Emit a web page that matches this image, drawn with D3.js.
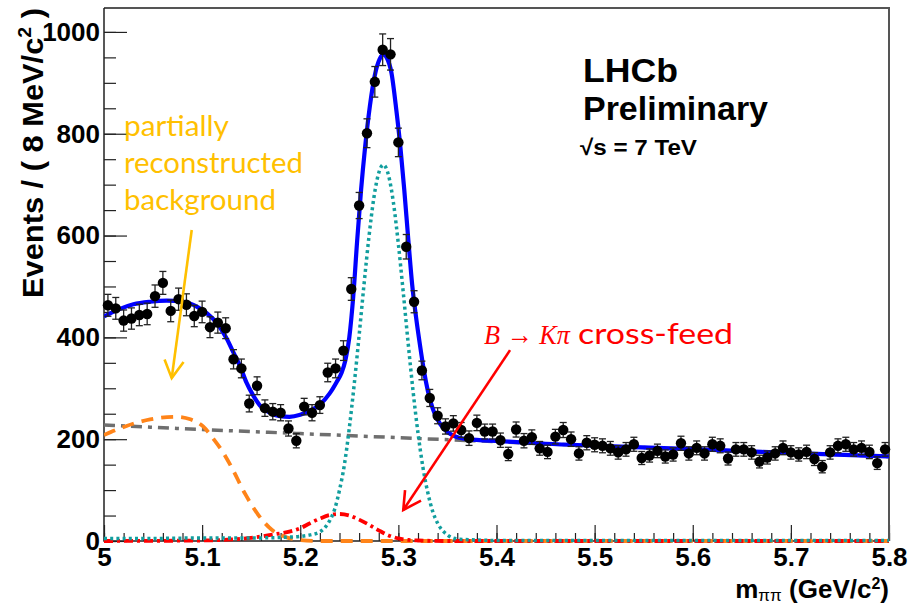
<!DOCTYPE html>
<html><head><meta charset="utf-8">
<script src="https://cdn.jsdelivr.net/npm/d3@7"></script>
<style>body{margin:0;background:#fff}svg{display:block}</style>
</head><body><svg id="c" width="912" height="606"></svg>
<script>
// ---------- data ----------
const binCenters = [5.004,5.012,5.020,5.028,5.036,5.044,5.052,5.060,5.068,5.076,
5.084,5.092,5.100,5.108,5.116,5.124,5.132,5.140,5.148,5.156,
5.164,5.172,5.180,5.188,5.196,5.204,5.212,5.220,5.228,5.236,
5.244,5.252,5.260,5.268,5.276,5.284,5.292,5.300,5.308,5.316,
5.324,5.332,5.340,5.348,5.356,5.364,5.372,5.380,5.388,5.396,
5.404,5.412,5.420,5.428,5.436,5.444,5.452,5.460,5.468,5.476,
5.484,5.492,5.500,5.508,5.516,5.524,5.532,5.540,5.548,5.556,
5.564,5.572,5.580,5.588,5.596,5.604,5.612,5.620,5.628,5.636,
5.644,5.652,5.660,5.668,5.676,5.684,5.692,5.700,5.708,5.716,
5.724,5.732,5.740,5.748,5.756,5.764,5.772,5.780,5.788,5.796];
const counts = [463,457,433,437,444,446,481,507,452,475,
464,442,450,420,429,418,357,339,270,305,
261,254,252,221,197,264,252,267,331,339,
374,495,659,801,902,965,956,783,578,470,
335,281,246,225,231,218,202,232,215,215,
198,171,219,197,204,182,175,205,218,200,
172,193,189,187,182,174,180,190,163,168,
177,166,170,192,172,183,172,190,187,162,
180,180,174,156,164,172,183,174,170,175,
161,146,174,187,190,180,183,175,153,180];

const totalX = [5.000,5.015,5.030,5.047,5.064,5.081,5.095,5.105,5.115,5.125,5.132,5.139,5.145,5.152,5.159,5.169,5.179,5.189,5.200,5.210,5.220,5.230,5.237,5.242,5.246,5.250,5.254,5.258,5.262,5.266,5.271,5.276,5.281,5.2846,5.288,5.293,5.298,5.302,5.306,5.310,5.314,5.318,5.322,5.326,5.330,5.335,5.340,5.346,5.356,5.370,5.404,5.450,5.505,5.593,5.670,5.740,5.800];
const totalY = [441,455,465,470,472,470,460,447,428,398,370,342,312,286,266,252,245,244,248,256,268,290,312,330,355,400,480,590,690,772,855,915,947,956,950,919,845,775,690,595,505,440,385,335,295,260,238,221,207,200,196,191,187,181,175,170,166];

const signalX = [5.00,5.05,5.10,5.15,5.18,5.20,5.21,5.22,5.225,5.23,5.235,5.24,5.245,5.25,5.255,5.26,5.265,5.27,5.275,5.28,5.2846,5.29,5.295,5.30,5.305,5.31,5.315,5.32,5.325,5.33,5.335,5.34,5.35,5.36,5.38,5.40,5.50,5.60,5.70,5.80];
const signalY = [5,5,6,6,7,9,12,18,26,40,62,100,150,222,308,404,504,597,674,723,739,718,664,583,488,388,294,212,145,95,58,35,12,4,2,1,1,1,1,1];

const crossX = [5.00,5.10,5.13,5.15,5.17,5.19,5.20,5.21,5.22,5.23,5.24,5.25,5.26,5.27,5.28,5.29,5.30,5.31,5.32,5.35,5.40,5.50,5.60,5.70,5.80];
const crossY = [0,1,3,6,12,19,25,35,44,51,53,50,42,32,21,11,5,2,1,0,0,0,0,0,0];

const partRecoX = [5.000,5.023,5.047,5.074,5.088,5.101,5.111,5.122,5.130,5.144,5.157,5.171,5.185,5.200,5.220,5.300,5.400,5.500,5.600,5.700,5.800];
const partRecoY = [208,226,239,244,239,225,202,172,145,92,52,22,8,2,0,0,0,0,0,0,0];

const combX = [5.0,5.1,5.2,5.3,5.4,5.5,5.6,5.7,5.8];
const combY = [228,219,211,203,195,187,180,173,166];

const xTickValues = [5.0,5.1,5.2,5.3,5.4,5.5,5.6,5.7,5.8];
const xTickLabels = ["5","5.1","5.2","5.3","5.4","5.5","5.6","5.7","5.8"];
const yTickValues = [0,200,400,600,800,1000];
const yTickLabels = ["0","200","400","600","800","1000"];

// ---------- layout ----------
const svg = d3.select("#c");
const L = 104, R = 889, T = 8, B = 541;
const x = d3.scaleLinear().domain([5, 5.8]).range([L, R]);
const y = d3.scaleLinear().domain([0, 1047]).range([B, T]);
const rootFont = "'Liberation Sans', Arial, Helvetica, sans-serif";

svg.append("rect").attr("width",912).attr("height",606).attr("fill","#fff");

// minor ticks
svg.append("g").attr("transform",`translate(0,${B})`)
  .call(d3.axisBottom(x).tickValues(x.ticks(40)).tickSize(-8).tickFormat("").tickSizeOuter(0))
  .call(g=>g.select(".domain").remove())
  .call(g=>g.selectAll("line").attr("stroke","#222").attr("stroke-width",1.2));
svg.append("g").attr("transform",`translate(${L},0)`)
  .call(d3.axisLeft(y).tickValues(y.ticks(20)).tickSize(-12).tickFormat("").tickSizeOuter(0))
  .call(g=>g.select(".domain").remove())
  .call(g=>g.selectAll("line").attr("stroke","#222").attr("stroke-width",1.2));

// major ticks + labels
svg.append("g").attr("transform",`translate(0,${B})`)
  .call(d3.axisBottom(x).tickValues(xTickValues).tickSize(-16).tickPadding(7).tickSizeOuter(0)
        .tickFormat((d,i)=>xTickLabels[i]))
  .call(g=>g.select(".domain").remove())
  .call(g=>g.selectAll("line").attr("stroke","#222").attr("stroke-width",1.2))
  .call(g=>g.selectAll("text").attr("fill","#000").style("font-family",rootFont)
        .style("font-weight","bold").style("font-size","26px"));
svg.append("g").attr("transform",`translate(${L},0)`)
  .call(d3.axisLeft(y).tickValues(yTickValues).tickSize(-23).tickPadding(4).tickSizeOuter(0)
        .tickFormat((d,i)=>yTickLabels[i]))
  .call(g=>g.select(".domain").remove())
  .call(g=>g.selectAll("line").attr("stroke","#222").attr("stroke-width",1.2))
  .call(g=>g.selectAll("text").attr("fill","#000").style("font-family",rootFont)
        .style("font-weight","bold").style("font-size","26px"));

// frame
svg.append("path").attr("d",`M${R},${B}V${T}H${L}`).attr("fill","none").attr("stroke","#555").attr("stroke-width",2);
svg.append("path").attr("d",`M${L},${T}V${B}H${R}`).attr("fill","none").attr("stroke","#222").attr("stroke-width",1.5);

// curves
const lineOf = (xs, ys) => d3.line().x((d,i)=>x(xs[i])).y(d=>y(d)).curve(d3.curveMonotoneX)(ys);
svg.append("clipPath").attr("id","clip").append("rect").attr("x",L).attr("y",T).attr("width",R-L).attr("height",B-T+3);
const g = svg.append("g").attr("clip-path","url(#clip)");

g.append("path").attr("d",lineOf(combX,combY)).attr("fill","none")
  .attr("stroke","#6f6f6f").attr("stroke-width",3.5).attr("stroke-dasharray","11,6,4,6");
g.append("path").attr("d",lineOf(partRecoX,partRecoY)).attr("fill","none")
  .attr("stroke","#ff8419").attr("stroke-width",3.8).attr("stroke-dasharray","12,8");
g.append("path").attr("d",lineOf(crossX,crossY)).attr("fill","none")
  .attr("stroke","#ff0000").attr("stroke-width",3.8).attr("stroke-dasharray","9,4,3,4");
g.append("path").attr("d",lineOf(signalX,signalY)).attr("fill","none")
  .attr("stroke","#119e9e").attr("stroke-width",3.5).attr("stroke-dasharray","3,3.2");
g.append("path").attr("d",lineOf(totalX,totalY)).attr("fill","none")
  .attr("stroke","#0000ff").attr("stroke-width",4.2);

// data points
const pts = svg.append("g");
counts.forEach((v,i)=>{
  const cx = x(binCenters[i]), e = Math.sqrt(v);
  const y0 = y(v-e), y1 = y(v+e);
  pts.append("line").attr("x1",cx).attr("x2",cx).attr("y1",y0).attr("y2",y1).attr("stroke","#222").attr("stroke-width",1.3);
  pts.append("line").attr("x1",cx-3.5).attr("x2",cx+3.5).attr("y1",y0).attr("y2",y0).attr("stroke","#222").attr("stroke-width",1.3);
  pts.append("line").attr("x1",cx-3.5).attr("x2",cx+3.5).attr("y1",y1).attr("y2",y1).attr("stroke","#222").attr("stroke-width",1.3);
  pts.append("circle").attr("cx",cx).attr("cy",y(v)).attr("r",5.2).attr("fill","#000");
});

// axis titles
const yt = svg.append("text").attr("transform","translate(43,8) rotate(-90)").attr("text-anchor","end")
  .attr("textLength",290).attr("lengthAdjust","spacingAndGlyphs")
  .style("font-family",rootFont).style("font-weight","bold").style("font-size","30px").attr("fill","#000");
yt.append("tspan").text("Events / ( 8 MeV/c");
yt.append("tspan").attr("dy",-12).style("font-size","19px").text("2");
yt.append("tspan").attr("dy",12).text(" )");

const xt = svg.append("text").attr("x",889).attr("y",598).attr("text-anchor","end")
  .style("font-family",rootFont).style("font-weight","bold").style("font-size","26px").attr("fill","#000");
xt.append("tspan").text("m");
xt.append("tspan").attr("dy",3).style("font-size","17px").style("font-weight","normal").text("ππ");
xt.append("tspan").attr("dy",-3).text(" (GeV/c");
xt.append("tspan").attr("dy",-9).style("font-size","16px").text("2");
xt.append("tspan").attr("dy",9).text(")");

// LHCb labels
svg.append("text").attr("x",583).attr("y",82).attr("textLength",95).attr("lengthAdjust","spacingAndGlyphs")
  .style("font-family",rootFont).style("font-weight","bold").style("font-size","33px").text("LHCb");
svg.append("text").attr("x",583).attr("y",120).attr("textLength",185).attr("lengthAdjust","spacingAndGlyphs")
  .style("font-family",rootFont).style("font-weight","bold").style("font-size","33px").text("Preliminary");
svg.append("text").attr("x",580).attr("y",155).attr("textLength",117).attr("lengthAdjust","spacingAndGlyphs")
  .style("font-family",rootFont).style("font-weight","bold").style("font-size","22px").text("√s = 7 TeV");

// annotations
function arrow(xa,ya,xb,yb,color){
  const x0=x(xa),y0=y(ya),x1=x(xb),y1=y(yb);
  svg.append("line").attr("x1",x0).attr("y1",y0).attr("x2",x1).attr("y2",y1).attr("stroke",color).attr("stroke-width",2.6);
  const a=Math.atan2(y0-y1,x0-x1), len=20, w=0.5;
  const p=[[x1+len*Math.cos(a+w),y1+len*Math.sin(a+w)],[x1,y1],[x1+len*Math.cos(a-w),y1+len*Math.sin(a-w)]];
  svg.append("path").attr("d",d3.line()(p)).attr("fill","none").attr("stroke",color).attr("stroke-width",2.6);
}
const annFont = "Lato, 'Open Sans', sans-serif";
const orange = "#ffc000";
[["partially",136,105],["reconstructed",173,179],["background",210,152]].forEach(([t,yy,len])=>{
  svg.append("text").attr("x",124).attr("y",yy).attr("textLength",len).attr("lengthAdjust","spacingAndGlyphs")
    .style("font-family",annFont).style("font-size","28px").attr("fill",orange).text(t);
});
arrow(5.0894,611,5.069,320,orange);

const mt = svg.append("text").attr("x",484).attr("y",344).attr("fill","#ff0000")
  .attr("textLength",86).attr("lengthAdjust","spacingAndGlyphs")
  .style("font-family","'Liberation Serif','DejaVu Serif',serif").style("font-size","28px");
mt.append("tspan").style("font-style","italic").text("B");
mt.append("tspan").text(" → ");
mt.append("tspan").style("font-style","italic").text("Kπ");
svg.append("text").attr("x",578).attr("y",344).attr("textLength",155).attr("lengthAdjust","spacingAndGlyphs")
  .attr("fill","#ff0000").style("font-family",annFont).style("font-size","28px").text("cross-feed");
arrow(5.4138,375,5.305,61,"#ff0000");
</script></body></html>
